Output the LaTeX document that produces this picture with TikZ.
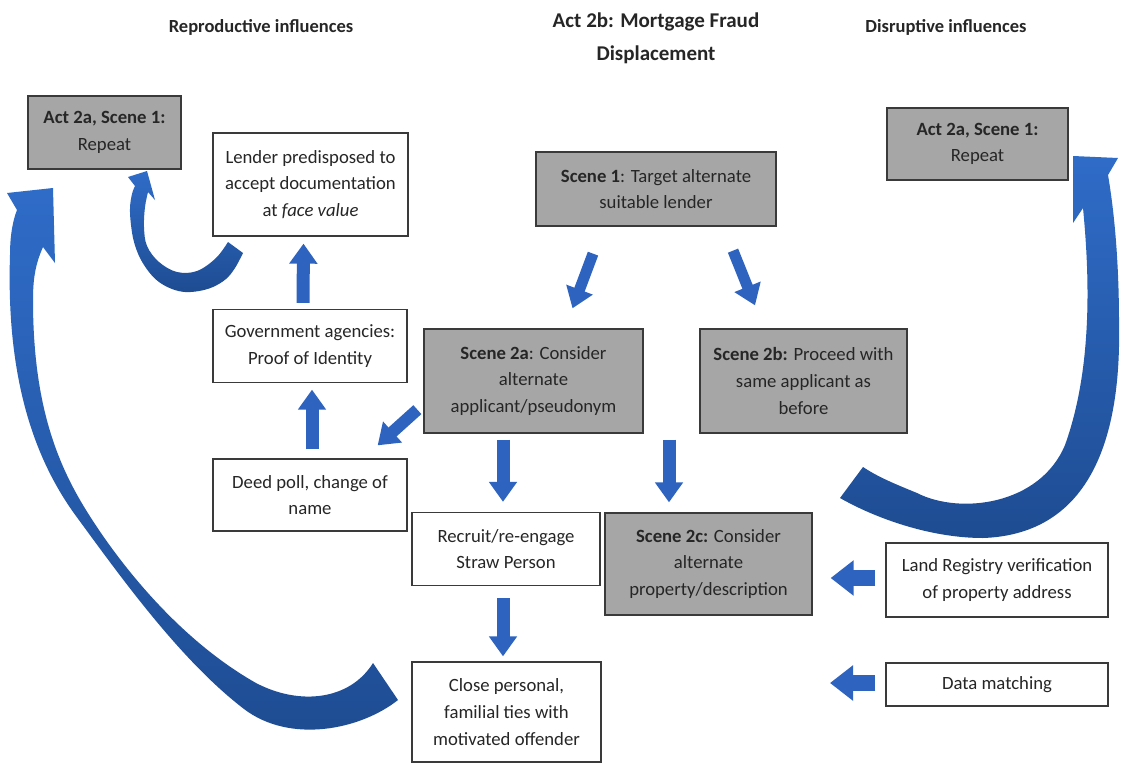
\documentclass[tikz,border=0pt]{standalone}
\usepackage{fontspec}
\setmainfont{Carlito}
\usetikzlibrary{arrows.meta,calc}

\definecolor{boxgray}{HTML}{A6A6A6}
\definecolor{edgegray}{HTML}{3A3A3A}
\definecolor{ink}{HTML}{262626}
\definecolor{arrowblue}{HTML}{2E64BF}
\definecolor{curvetop}{HTML}{2F6CC8}
\definecolor{curvebot}{HTML}{1E4C92}

\newcommand\boxtextfont{\fontsize{18.7}{26.7}\selectfont}
\newcommand\headtextfont{\fontsize{18.5}{26}\selectfont\bfseries}
\newcommand\maintitlefont{\fontsize{21}{33}\selectfont\bfseries}

\begin{document}
\begin{tikzpicture}[x=1pt,y=-1pt,
  box/.style={draw=edgegray, line width=1.3pt, fill=white, inner sep=0pt,
              align=center, text=ink, font=\boxtextfont},
  scenebox/.style={box, fill=boxgray},
  heading/.style={text=ink, align=center, inner sep=0pt},
  blockarrow/.style={draw=arrowblue, line width=13pt,
                     -{Triangle[length=20pt,width=27pt]}},
  sidearrow/.style={draw=arrowblue, line width=16pt,
                    -{Triangle[length=23pt,width=34pt]}},
  curvearrow/.style={top color=curvetop, bottom color=curvebot}
]
\useasboundingbox (0,0) rectangle (1121,763);
\fill[white] (0,0) rectangle (1121,763);

% headings
\node[heading, font=\headtextfont] (repro) at (261,27) {Reproductive influences};
\node[heading, font=\maintitlefont] (title) at (656,38) {Act 2b: Mortgage Fraud\\Displacement};
\node[heading, font=\headtextfont] (disrupt) at (946,27) {Disruptive influences};

% boxes
\node[scenebox, minimum width=153pt, minimum height=73pt] (repeatL) at (104.5,132.5)
  {\textbf{Act 2a, Scene 1:}\\Repeat};
\node[box, minimum width=195pt, minimum height=103pt] (lender) at (310.5,184.5)
  {Lender predisposed to\\accept documentation\\at \textit{face value}};
\node[scenebox, minimum width=240pt, minimum height=74pt] (s1) at (656,189)
  {\textbf{Scene 1}: Target alternate\\suitable lender};
\node[scenebox, minimum width=181pt, minimum height=72pt] (repeatR) at (977.5,144)
  {\textbf{Act 2a, Scene 1:}\\Repeat};
\node[box, minimum width=194pt, minimum height=73pt] (gov) at (310,346)
  {Government agencies:\\Proof of Identity};
\node[scenebox, minimum width=219pt, minimum height=104pt] (s2a) at (533.5,381)
  {\textbf{Scene 2a}: Consider\\alternate\\applicant/pseudonym};
\node[scenebox, minimum width=207pt, minimum height=104pt] (s2b) at (803.5,381)
  {\textbf{Scene 2b:} Proceed with\\same applicant as\\before};
\node[box, minimum width=194pt, minimum height=72pt] (deed) at (310,495)
  {Deed poll, change of\\name};
\node[box, minimum width=188pt, minimum height=73pt] (recruit) at (506,549)
  {Recruit/re-engage\\Straw Person};
\node[scenebox, minimum width=207pt, minimum height=102pt] (s2c) at (708.5,564)
  {\textbf{Scene 2c:} Consider\\alternate\\property/description};
\node[box, minimum width=222pt, minimum height=74pt] (land) at (997,580)
  {Land Registry verification\\of property address};
\node[box, minimum width=222pt, minimum height=43pt] (data) at (997,684.5)
  {Data matching};
\node[box, minimum width=189pt, minimum height=100pt] (close) at (506.5,712)
  {Close personal,\\familial ties with\\motivated offender};
\coordinate (dataend) at (830,683);

% straight block arrows
\draw[blockarrow] ($(gov.north)+(-7,-6)$) -- ($(lender.south)+(-7,7)$);
\draw[blockarrow] ($(deed.north)+(2,-9)$) -- ($(gov.south)+(2,6.5)$);
\draw[blockarrow, line width=12pt] ($(s2a.south west)+(-6,-24)$) -- ($(deed.north east)+(-30,-13)$);
\draw[blockarrow, line width=11pt] ($(s1.south)+(-63,27)$) -- ($(s2a.north)+(39,-20)$);
\draw[blockarrow, line width=11pt] ($(s1.south)+(77,24)$) -- ($(s2b.north)+(-48.5,-23)$);
\draw[blockarrow] ($(s2a.south)+(-30.5,6)$) -- ($(recruit.north)+(-3,-10)$);
\draw[blockarrow] ($(s2a.south east)!0.5!(s2b.south west)+(-2.5,6)$) -- ($(s2c.north)+(-39.5,-10)$);
\draw[blockarrow] ($(recruit.south)+(-3,12)$) -- ($(close.north)+(-3.5,-5)$);
\draw[sidearrow] ($(land.west)+(-10,-2)$) -- ($(s2c.east)+(18,14)$);
\draw[sidearrow] ($(data.west)+(-10,-1.5)$) -- (dataend);

% curved arrow: Lender back to Act 2a (reproductive side)
\shade[curvearrow]
  plot[smooth, tension=0.6] coordinates {(243,253) (235,268) (226,279) (213,287)
    (199,291) (185,292) (172,289) (159,282) (149,272) (140,258) (134,242)
    (131,225) (130,208) (132,194) (135,186)}
  -- (128,177) -- (147,171) -- (155,200) -- (148,192)
  -- plot[smooth, tension=0.6] coordinates {(148,192) (145,207) (144,227)
    (147,246) (159,262) (177,272) (197,271) (216,258) (228,242)}
  -- cycle;

% large curved arrow: close ties back to Act 2a
\shade[curvearrow]
  (398,700) .. controls (360,730) and (290,744) .. (244,709)
            .. controls (180,660) and (120,576) .. (76,516)
            .. controls (35,460) and (6,380) .. (10,255)
            .. controls (10,235) and (13,220) .. (17,210)
  -- (7,193) -- (53,188) -- (55,263) -- (43,247)
            .. controls (35,265) and (33,280) .. (33,300)
            .. controls (33,400) and (55,460) .. (86,510)
            .. controls (120,565) and (180,640) .. (256,683)
            .. controls (300,706) and (350,700) .. (373,663)
  -- cycle;

% large curved arrow on the disruptive side
\shade[curvearrow]
  (840,498) .. controls (875,518) and (930,538) .. (983,538)
            .. controls (1070,535) and (1122,470) .. (1119,323)
            .. controls (1119,260) and (1114,210) .. (1108,175)
  -- (1118,158) -- (1073,156) -- (1073,223) -- (1083,208)
            .. controls (1090,280) and (1092,370) .. (1065,445)
            .. controls (1040,505) and (960,515) .. (917,493)
            .. controls (895,484) and (878,477) .. (863,467)
  -- cycle;
\end{tikzpicture}
\end{document}
